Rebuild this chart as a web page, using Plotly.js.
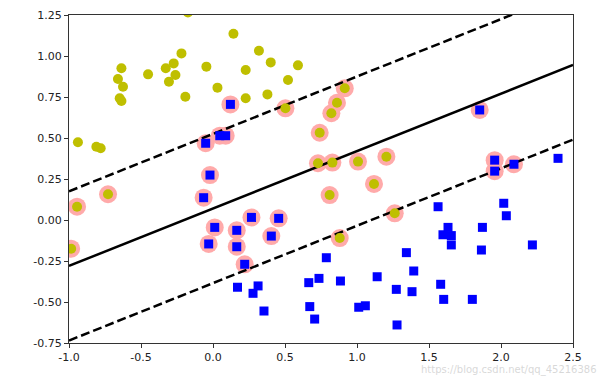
<!DOCTYPE html>
<html>
<head>
<meta charset="utf-8">
<script src="https://cdn.plot.ly/plotly-3.0.1.min.js"></script>
<style>html,body{margin:0;padding:0;background:#fff;}#chart{width:606px;height:378px;}</style>
</head>
<body>
<div id="chart"></div>
<script>
// Class 0 (yellow circles); SV flag 1 = support vector
var yellowX  = [-0.174,0.142,-0.219,-0.636,-0.660,-0.625,-0.648,-0.636,-0.451,-0.328,-0.273,-0.261,-0.306,-0.192,-0.046,0.031,0.319,0.401,0.227,0.590,0.521,0.227,0.378,-0.938,-0.810,-0.780,
                0.503,0.915,0.861,0.822,0.741,0.729,0.829,1.007,1.204,1.118,0.810,1.262,0.880,-0.729,-0.944,-0.985];
var yellowY  = [1.265,1.136,1.016,0.925,0.860,0.813,0.742,0.726,0.888,0.925,0.955,0.884,0.843,0.752,0.935,0.807,1.032,0.961,0.915,0.943,0.854,0.742,0.766,0.474,0.447,0.437,
                0.681,0.803,0.715,0.651,0.532,0.346,0.350,0.356,0.386,0.220,0.152,0.041,-0.110,0.157,0.081,-0.175];
var yellowSV = [0,0,0,0,0,0,0,0,0,0,0,0,0,0,0,0,0,0,0,0,0,0,0,0,0,0,
                1,1,1,1,1,1,1,1,1,1,1,1,1,1,1,1];
// Class 1 (blue squares)
var blueX  = [0.121,1.852,-0.051,0.047,0.088,-0.021,-0.065,0.012,0.165,0.267,0.456,0.405,-0.030,0.165,0.220,1.956,1.956,2.090,
              0.170,0.313,0.278,0.354,0.787,0.665,0.736,0.885,0.672,0.706,1.012,1.058,1.140,1.273,1.278,2.396,1.563,2.019,2.037,1.632,1.597,1.655,1.871,1.655,1.864,2.218,1.343,1.394,1.382,1.581,1.602,1.801];
var blueY  = [0.705,0.671,0.468,0.514,0.514,0.274,0.136,-0.045,-0.063,0.016,0.010,-0.098,-0.146,-0.163,-0.270,0.365,0.298,0.340,
              -0.410,-0.402,-0.447,-0.555,-0.230,-0.382,-0.356,-0.372,-0.528,-0.604,-0.532,-0.523,-0.346,-0.423,-0.640,0.376,0.081,0.102,0.026,-0.045,-0.090,-0.095,-0.045,-0.152,-0.183,-0.152,-0.199,-0.311,-0.437,-0.392,-0.484,-0.484];
var blueSV = [1,1,1,1,1,1,1,1,1,1,1,1,1,1,1,1,1,1,
              0,0,0,0,0,0,0,0,0,0,0,0,0,0,0,0,0,0,0,0,0,0,0,0,0,0,0,0,0,0,0,0];
// Decision boundary and margins (values at x = -1.0 and x = 2.5)
var lineX    = [-1.0, 2.5];
var decision = [-0.280, 0.945];
var upperM   = [0.175, 1.400];
var lowerM   = [-0.735, 0.490];

var xTicks = [-1.0,-0.5,0.0,0.5,1.0,1.5,2.0,2.5];
var yTicks = [-0.75,-0.50,-0.25,0.00,0.25,0.50,0.75,1.00,1.25];

var svX = [], svY = [];
yellowX.forEach(function(v,i){ if (yellowSV[i]) { svX.push(v); svY.push(yellowY[i]); } });
blueX.forEach(function(v,i){ if (blueSV[i]) { svX.push(v); svY.push(blueY[i]); } });

var traces = [
  {x: svX, y: svY, mode: 'markers', type: 'scatter', hoverinfo: 'skip',
   marker: {color: '#FFAAAA', size: 18, line: {width: 0}}},
  {x: lineX, y: decision, mode: 'lines', type: 'scatter', line: {color: '#000', width: 2.5}},
  {x: lineX, y: upperM, mode: 'lines', type: 'scatter', line: {color: '#000', width: 2.5, dash: '9px,4px'}},
  {x: lineX, y: lowerM, mode: 'lines', type: 'scatter', line: {color: '#000', width: 2.5, dash: '9px,4px'}},
  {x: blueX, y: blueY, mode: 'markers', type: 'scatter',
   marker: {color: '#0000ff', symbol: 'square', size: 9, line: {width: 0}}},
  {x: yellowX, y: yellowY, mode: 'markers', type: 'scatter',
   marker: {color: '#bfbf00', symbol: 'circle', size: 10, line: {width: 0}}}
];

var axisCommon = {
  showgrid: false, zeroline: false, showline: true, mirror: true,
  linecolor: '#333', linewidth: 1, ticks: 'outside', ticklen: 4, tickwidth: 1, tickcolor: '#333',
  tickfont: {family: 'DejaVu Sans', size: 11, color: '#222'}
};

var layout = {
  width: 606, height: 378,
  margin: {l: 69, r: 33, t: 15, b: 35, pad: 0},
  paper_bgcolor: '#fff', plot_bgcolor: '#fff',
  showlegend: false,
  xaxis: Object.assign({}, axisCommon, {range: [-1.0, 2.5], tickvals: xTicks, ticktext: xTicks.map(function(v){return v.toFixed(1);})}),
  yaxis: Object.assign({}, axisCommon, {range: [-0.75, 1.25], tickvals: yTicks, ticktext: yTicks.map(function(v){return v.toFixed(2);})}),
  annotations: [{
    text: 'https://blog.csdn.net/qq_45216386', xref: 'paper', yref: 'paper',
    x: 1.05, y: -0.104, xanchor: 'right', yanchor: 'bottom', showarrow: false, borderpad: 0,
    font: {family: 'DejaVu Sans', size: 10, color: 'rgba(190,190,190,0.6)'}
  }]
};

Plotly.newPlot('chart', traces, layout, {staticPlot: true, displayModeBar: false});
</script>
</body>
</html>
